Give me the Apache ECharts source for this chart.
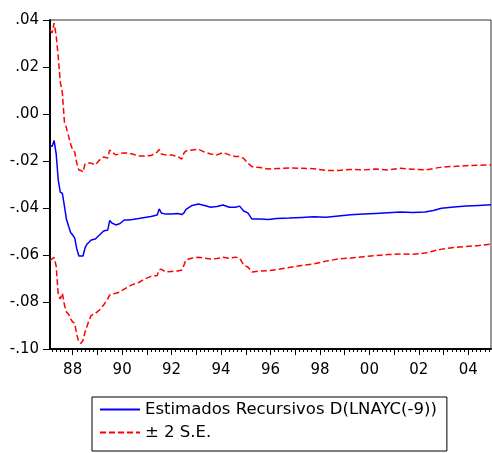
<!DOCTYPE html>
<html>
<head>
<meta charset="utf-8">
<script src="https://cdn.jsdelivr.net/npm/echarts@6/dist/echarts.min.js"></script>
<style>
html, body { margin: 0; padding: 0; background: #fff; }
#chart { width: 492px; height: 453px; }
</style>
</head>
<body>
<div id="chart"></div>
<script>
// monthly sample 1987M02 .. 2004M12
var months = [];
for (var yr = 1987; yr <= 2004; yr++) {
  for (var mo = 1; mo <= 12; mo++) {
    if (yr === 1987 && mo === 1) continue;
    months.push(yr + "M" + (mo < 10 ? "0" + mo : mo));
  }
}

var obs = [
  "1987M02", "1987M03", "1987M04", "1987M05", "1987M06", "1987M07", "1987M08", "1987M09",
  "1987M10", "1987M11", "1987M12", "1988M01", "1988M02", "1988M03", "1988M04", "1988M05",
  "1988M06", "1988M07", "1988M08", "1988M09", "1988M10", "1988M12", "1989M02", "1989M04",
  "1989M06", "1989M07", "1989M08", "1989M10", "1989M12", "1990M02", "1990M04", "1990M06",
  "1990M09", "1990M12", "1991M03", "1991M06", "1991M07", "1991M08", "1991M10", "1992M01",
  "1992M04", "1992M06", "1992M07", "1992M08", "1992M11", "1993M02", "1993M05", "1993M08",
  "1993M11", "1994M02", "1994M05", "1994M08", "1994M10", "1994M12", "1995M02", "1995M04",
  "1995M08", "1995M12", "1996M04", "1996M10", "1997M04", "1997M10", "1998M04", "1998M10",
  "1999M04", "1999M10", "2000M04", "2000M10", "2001M04", "2001M10", "2002M04", "2002M08",
  "2002M12", "2003M06", "2003M12", "2004M06", "2004M12"
];

var estimate = [
  -0.0132, -0.0138, -0.0113, -0.0170, -0.0281, -0.0332, -0.0338, -0.0392,
  -0.0449, -0.0477, -0.0504, -0.0515, -0.0528, -0.0574, -0.0604, -0.0604,
  -0.0604, -0.0570, -0.0553, -0.0545, -0.0536, -0.0532, -0.0515, -0.0498,
  -0.0494, -0.0453, -0.0464, -0.0472, -0.0466, -0.0451, -0.0451, -0.0449,
  -0.0445, -0.0440, -0.0436, -0.0430, -0.0404, -0.0421, -0.0426, -0.0426,
  -0.0423, -0.0428, -0.0421, -0.0406, -0.0389, -0.0383, -0.0389, -0.0397,
  -0.0394, -0.0387, -0.0397, -0.0397, -0.0392, -0.0413, -0.0421, -0.0447,
  -0.0447, -0.0449, -0.0445, -0.0443, -0.0440, -0.0437, -0.0439, -0.0434,
  -0.0429, -0.0426, -0.0423, -0.0420, -0.0417, -0.0419, -0.0417, -0.0411,
  -0.0401, -0.0396, -0.0392, -0.0389, -0.0386
];

var upperBand = [
  0.0357, 0.0345, 0.0387, 0.0332, 0.0243, 0.0136, 0.0089, -0.0034,
  -0.0060, -0.0094, -0.0128, -0.0153, -0.0162, -0.0209, -0.0238, -0.0240,
  -0.0247, -0.0213, -0.0209, -0.0209, -0.0209, -0.0217, -0.0196, -0.0183,
  -0.0187, -0.0153, -0.0162, -0.0174, -0.0168, -0.0166, -0.0166, -0.0170,
  -0.0179, -0.0179, -0.0177, -0.0162, -0.0151, -0.0170, -0.0174, -0.0174,
  -0.0181, -0.0192, -0.0166, -0.0157, -0.0153, -0.0150, -0.0162, -0.0170,
  -0.0174, -0.0164, -0.0174, -0.0181, -0.0181, -0.0189, -0.0209, -0.0224,
  -0.0228, -0.0234, -0.0232, -0.0230, -0.0231, -0.0233, -0.0240, -0.0240,
  -0.0236, -0.0238, -0.0234, -0.0238, -0.0231, -0.0235, -0.0238, -0.0232,
  -0.0226, -0.0223, -0.0220, -0.0218, -0.0217
];

var lowerBand = [
  -0.0621, -0.0617, -0.0610, -0.0647, -0.0770, -0.0787, -0.0762, -0.0813,
  -0.0843, -0.0851, -0.0872, -0.0885, -0.0891, -0.0940, -0.0970, -0.0976,
  -0.0964, -0.0928, -0.0902, -0.0877, -0.0857, -0.0849, -0.0834, -0.0813,
  -0.0787, -0.0770, -0.0766, -0.0763, -0.0757, -0.0745, -0.0735, -0.0726,
  -0.0717, -0.0702, -0.0691, -0.0687, -0.0664, -0.0660, -0.0672, -0.0670,
  -0.0668, -0.0664, -0.0643, -0.0621, -0.0613, -0.0610, -0.0613, -0.0617,
  -0.0615, -0.0610, -0.0614, -0.0609, -0.0613, -0.0643, -0.0651, -0.0672,
  -0.0668, -0.0667, -0.0662, -0.0653, -0.0645, -0.0638, -0.0626, -0.0617,
  -0.0613, -0.0607, -0.0602, -0.0598, -0.0596, -0.0597, -0.0592, -0.0583,
  -0.0575, -0.0568, -0.0564, -0.0560, -0.0554
];

function pairs(vals) {
  return obs.map(function (d, k) { return [d, vals[k]]; });
}

var FONT = "DejaVu Sans";
var chart = echarts.init(document.getElementById("chart"));

var option = {
  animation: false,
  backgroundColor: "#fff",
  grid: {
    left: 50, right: 1, top: 20, bottom: 104,
    show: true, borderColor: "#333", borderWidth: 1
  },
  legend: {
    left: 92, top: 397,
    orient: "vertical",
    itemWidth: 40, itemHeight: 14, itemGap: 6,
    padding: [4, 10, 10, 7],
    borderColor: "#000", borderWidth: 1,
    // hide the little symbol ECharts puts in the middle of a line icon
    itemStyle: { color: "rgba(0,0,0,0)", borderWidth: 0, opacity: 0 },
    textStyle: { fontFamily: FONT, fontSize: 16.5, lineHeight: 17, color: "#000" },
    data: ["Estimados Recursivos D(LNAYC(-9))", "± 2 S.E."]
  },
  xAxis: [
    {
      type: "category",
      data: months,
      boundaryGap: false,
      axisLine: { onZero: false, lineStyle: { color: "#000", width: 2 } },
      axisTick: {
        length: 3,
        lineStyle: { color: "#000" },
        interval: function (idx) { return idx % 2 === 1; }
      },
      axisLabel: {
        margin: 14,
        fontFamily: FONT, fontSize: 15, color: "#000",
        interval: function (idx, val) {
          return val.slice(5) === "01" && parseInt(val.slice(0, 4), 10) % 2 === 0;
        },
        formatter: function (val) { return val.slice(2, 4); }
      },
      splitLine: { show: false }
    },
    {
      type: "category",
      data: months,
      boundaryGap: false,
      position: "bottom",
      axisLine: { show: false, onZero: false },
      axisTick: {
        length: 6,
        lineStyle: { color: "#000" },
        interval: function (idx, val) { return val.slice(5) === "01"; }
      },
      axisLabel: { show: false },
      splitLine: { show: false }
    }
  ],
  yAxis: {
    type: "value",
    min: -0.10,
    max: 0.04,
    interval: 0.02,
    axisLine: { show: true, onZero: false, lineStyle: { color: "#000", width: 2 } },
    axisTick: { show: true, length: 7, lineStyle: { color: "#000" } },
    axisLabel: {
      margin: 11,
      fontFamily: FONT, fontSize: 15, color: "#000",
      formatter: function (v) { return v.toFixed(2).replace("0.", "."); }
    },
    splitLine: { show: false }
  },
  series: [
    {
      name: "Estimados Recursivos D(LNAYC(-9))",
      type: "line",
      showSymbol: false,
      symbol: "none",
      color: "#0000ff",
      lineStyle: { color: "#0000ff", width: 1.5 },
      data: pairs(estimate)
    },
    {
      name: "± 2 S.E.",
      type: "line",
      showSymbol: false,
      symbol: "none",
      color: "#ff0000",
      lineStyle: { color: "#ff0000", width: 1.5, type: [6, 3] },
      data: pairs(upperBand)
    },
    {
      name: "± 2 S.E.",
      type: "line",
      showSymbol: false,
      symbol: "none",
      color: "#ff0000",
      lineStyle: { color: "#ff0000", width: 1.5, type: [6, 3] },
      data: pairs(lowerBand)
    }
  ]
};

chart.setOption(option);
</script>
</body>
</html>
